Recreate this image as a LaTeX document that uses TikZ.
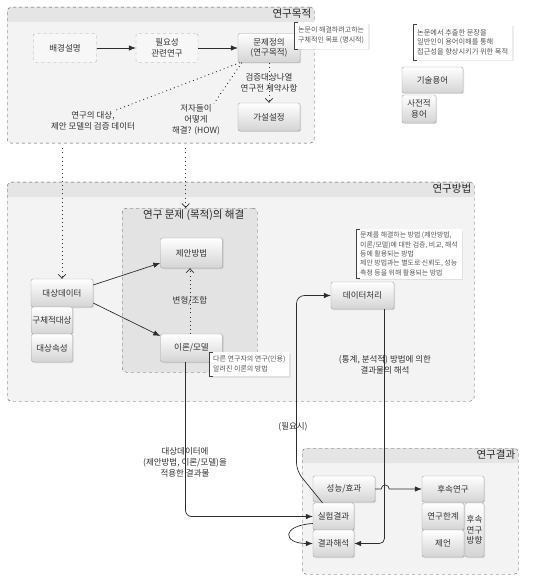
\documentclass[tikz,border=0pt]{standalone}
\usepackage{fontspec}
\setmainfont{Noto Sans CJK KR}
\usetikzlibrary{arrows.meta,positioning,shadows,backgrounds,calc}
\definecolor{grpfill}{HTML}{F3F3F3}
\definecolor{grphead}{HTML}{E5E5E5}
\definecolor{grpline}{HTML}{5A5A5A}
\definecolor{innerfill}{HTML}{E3E3E3}
\definecolor{boxline}{HTML}{A3A3A3}
\definecolor{boxshade}{HTML}{D4D4D4}
\definecolor{notegray}{HTML}{555555}
\definecolor{linegray}{HTML}{2E2E2E}

\begin{document}
\begin{tikzpicture}[x=1pt,y=-1pt,
  box/.style={draw=boxline,rounded corners=2pt,top color=white,bottom color=boxshade,
    drop shadow={opacity=0.25,shadow xshift=1pt,shadow yshift=-1pt},
    minimum width=62pt,minimum height=28pt,inner sep=0pt,align=center,
    text=black!80,font=\fontsize{8.5}{10.5}\selectfont},
  dbox/.style={draw=boxline,dashed,rounded corners=2pt,fill=white!97!black,
    minimum width=62pt,minimum height=29pt,inner sep=0pt,align=center,
    text=black!80,font=\fontsize{8.5}{10.5}\selectfont},
  grp/.style={draw=grpline,dashed,rounded corners=4pt,anchor=north west,inner sep=0pt},
  grptitle/.style={anchor=north east,inner sep=2pt,text=black!85,font=\fontsize{10.5}{12}\selectfont},
  note/.style={fill=white,drop shadow={opacity=0.15,shadow xshift=1.5pt,shadow yshift=-1.5pt},
    anchor=north west,align=left,text=notegray,inner xsep=4pt,inner ysep=5pt,
    font=\fontsize{7}{9.5}\selectfont},
  bracket/.style={draw=black!75,line width=0.8pt},
  lbl/.style={align=center,inner sep=1pt,text=black!80,font=\fontsize{8.5}{11}\selectfont},
  conn/.style={draw=linegray,line width=0.7pt,-{Latex[length=7pt,width=5.5pt]}},
  hintline/.style={draw=linegray,line width=0.9pt,dash pattern=on 0.9pt off 3.2pt},
  hint/.style={hintline,-{Straight Barb[length=4pt,width=7.5pt,line width=0.7pt]}}
]
\useasboundingbox (0,0) rectangle (533,585);

% groups
\node[grp,minimum width=307pt,minimum height=136pt] (purpose) at (7,7) {};
\node[grp,minimum width=467pt,minimum height=219pt] (method) at (7,182) {};
\node[grp,minimum width=135pt,minimum height=164pt] (solve) at (122,208) {};
\node[grp,minimum width=216pt,minimum height=126pt] (result) at (302,448) {};
\begin{scope}[on background layer]
  \foreach \g in {purpose,method,result}{
    \fill[grpfill,rounded corners=4pt] (\g.north west) rectangle (\g.south east);
    \fill[grphead] ([yshift=-15pt]\g.north west) [rounded corners=4pt] -- (\g.north west)
      -- (\g.north east) [sharp corners] -- ([yshift=-15pt]\g.north east) -- cycle;
  }
  \fill[innerfill,rounded corners=4pt] (solve.north west) rectangle (solve.south east);
\end{scope}
\node[grptitle] (purposetitle) at ([xshift=-1pt]purpose.north east) {연구목적};
\node[grptitle] (methodtitle) at ([xshift=-1pt]method.north east) {연구방법};
\node[grptitle] (resulttitle) at ([xshift=-1pt]result.north east) {연구결과};
\node[grptitle,anchor=north] (solvetitle) at ([xshift=4pt]solve.north) {연구 문제 (목적)의 해결};

% 연구목적
\node[dbox,minimum width=63pt] (bg) at (65,48) {배경설명};
\node[dbox] (need) at (167,48) {필요성\\관련연구};
\node[box,minimum height=29pt] (prob) at (269,48) {문제정의\\(연구목적)};
\node[box] (hyp) at (269,117) {가설설정};
\draw[conn] (bg) -- (need);
\draw[conn] (need) -- (prob);
\draw[hint] (prob.south) -- (hyp.north) node[midway,lbl] (checklbl) {검증대상나열\\연구전 제약사항};
\node[note] (goalnote) at (294,22) {논문이 해결하려고하는\\구체적인 목표 (명시적)};
\draw[bracket] ([xshift=4pt]goalnote.north west) -- (goalnote.north west)
  -- (goalnote.south west) -- ([xshift=4pt]goalnote.south west);
\node[lbl] (objlbl) at (93,121) {연구의 대상,\\제안 모델의 검증 데이터};
\node[lbl] (howlbl) at (196,120) {저자들이\\어떻게\\해결? (HOW)};
\draw[hintline] ([xshift=2pt]prob.south west) -- ([xshift=22pt]objlbl.north);
\draw[hintline] ([xshift=4pt]prob.south west) -- ([xshift=18pt]howlbl.north);

% 용어
\node[note,font=\fontsize{7.2}{9.5}\selectfont] (termnote) at (413,24)
  {논문에서 추출한 문장을\\일반인이 용어이해를 통해\\접근성을 향상시키기 위한 목적};
\draw[bracket] ([xshift=4pt]termnote.north west) -- (termnote.north west)
  -- (termnote.south west) -- ([xshift=4pt]termnote.south west);
\node[box,minimum width=61pt,minimum height=26pt] (tech) at (432.5,80) {기술용어};
\node[box,minimum width=34pt] (dict) at (419,109) {사전적\\용어};

% 연구방법
\node[box] (data) at (62,293) {대상데이터};
\node[box,minimum width=41pt,minimum height=27pt] (spec) at (52,320.5) {구체적대상};
\node[box,minimum width=41pt] (attr) at (52,348) {대상속성};
\node[box,minimum height=30pt] (prop) at (191.5,253) {제안방법};
\node[box] (model) at (191.5,348) {이론/모델};
\node[box,minimum width=63pt,minimum height=27pt] (proc) at (362.5,295.5) {데이터처리};
\draw[hint] ($(purpose.south -| data.north)+(0,5)$) -- (data.north);
\draw[hint] ($(purpose.south -| solve.north)+(-4,5)$) -- ([xshift=-4pt]solve.north);
\draw[conn] ([yshift=8pt]data.east) -- ([yshift=-10pt]prop.west);
\draw[conn] ([yshift=-10pt]data.east) -- ([yshift=12pt]model.west);
\draw[hint] ([xshift=-1.5pt]model.north) -- ([xshift=-1.5pt]prop.south)
  node[midway,lbl] (mixlbl) {변형/조합};
\node[note,inner ysep=4pt] (modelnote) at (209,352) {다른 연구자의 연구(인용)\\알려진 이론의 방법};
\draw[bracket] ([xshift=4pt]modelnote.north west) -- (modelnote.north west)
  -- (modelnote.south west) -- ([xshift=4pt]modelnote.south west);
\node[note,inner ysep=3pt,font=\fontsize{6.9}{9.3}\selectfont] (procnote) at (356,229)
  {문제를 해결하는 방법 (제안방법,\\이론/모델)에 대한 검증, 비교, 해석\\ 등에 활용되는 방법\\제안 방법과는 별도로 신뢰도, 성능\\측정 등을 위해 활용되는 방법};
\draw[bracket] ([xshift=4pt]procnote.north west) -- (procnote.north west)
  -- (procnote.south west) -- ([xshift=4pt]procnote.south west);
\node[lbl] (statlbl) at (385,365) {(통계, 분석적) 방법에 의한\\결과물의 해석};

% 연구결과
\node[box,minimum height=26pt] (perf) at (344,489) {성능/효과};
\node[box,minimum width=41pt,minimum height=27pt] (exp) at (333.5,516.5) {실험결과};
\node[box,minimum width=41pt,minimum height=27pt] (interp) at (333.5,543.5) {결과해석};
\node[box,minimum height=26pt] (follow) at (453,489) {후속연구};
\node[box,minimum width=42pt,minimum height=27pt] (limit) at (443,516.5) {연구한계};
\node[box,minimum width=42pt,minimum height=27pt] (sugg) at (443,543.5) {제언};
\node[box,minimum width=19pt,minimum height=54pt] (dir) at (474.5,530) {후속\\연구\\방향};

\node[lbl] (applylbl) at (185,462) {대상데이터에\\(제안방법, 이론/모델)을\\적용한 결과물};
\node[lbl] (needlbl) at (293,427) {(필요시)};
\draw[conn,rounded corners=6pt] ([xshift=-6pt]model.south) |- (exp.west);
\draw[conn,rounded corners=8pt] ([xshift=-11pt]exp.north) -- ++(-26pt,32pt) |- (proc.west);
\draw[conn,rounded corners=5pt] ([xshift=22pt]proc.south) |- (interp.east);
\draw[conn] (perf.east) -- ([xshift=6pt]perf.east) arc[start angle=180,end angle=0,radius=4pt]
  -- (follow.west);
\draw[conn] ([yshift=-7pt]exp.west) .. controls +(-32pt,-2pt) and +(-30pt,0pt) .. (interp.west);
\end{tikzpicture}
\end{document}
